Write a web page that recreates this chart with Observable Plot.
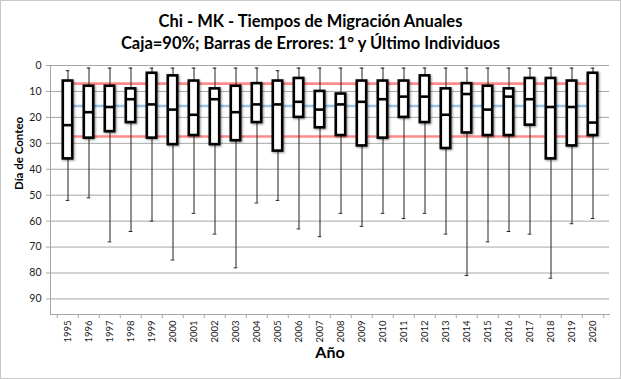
<!DOCTYPE html>
<html>
<head>
<meta charset="utf-8">
<script src="https://cdn.jsdelivr.net/npm/d3@7"></script>
<script src="https://cdn.jsdelivr.net/npm/@observablehq/plot@0.6"></script>
<style>
  html, body { margin: 0; padding: 0; background: #fff; }
  #chart { position: relative; width: 621px; height: 379px; font-family: Lato, "Open Sans", sans-serif; overflow: hidden; }
  #title { position: absolute; left: 0; top: 10px; width: 621px; text-align: center; font-weight: bold; font-size: 16.5px; line-height: 22px; color: #000; }
  #plot { position: absolute; left: 0; top: 0; }
  #border { position: absolute; left: 0; top: 0; width: 621px; height: 379px; box-sizing: border-box; border: 1px solid #c8c8c8; pointer-events: none; }
</style>
</head>
<body>
<div id="chart">
  <div id="plot"></div>
  <div id="title">Chi - MK - Tiempos de Migración Anuales<br>Caja=90%; Barras de Errores: 1° y Último Individuos</div>
  <div id="border"></div>
</div>
<script>
// ---- data ----
const years   = ["1995","1996","1997","1998","1999","2000","2001","2002","2003","2004","2005","2006","2007","2008","2009","2010","2011","2012","2013","2014","2015","2016","2017","2018","2019","2020"];
const boxLow  = [6, 8, 8, 9, 3, 4, 6, 9, 8, 7, 6, 5, 10, 11, 6, 6, 6, 4, 9, 7, 8, 9, 5, 5, 6, 3];
const boxHigh = [36, 28, 25.5, 22, 28, 30.5, 27, 30.5, 29, 22, 33, 20, 24, 27, 31, 28, 20, 22, 32, 26, 27, 27, 23, 36, 31, 27];
const medians = [23, 18, 16, 13, 15, 17, 19, 13, 18, 15, 15, 14, 17, 15, 14, 13, 12, 12, 19, 11, 17, 12, 13, 16, 16, 22];
const firsts  = [2, 1, 1, 1, 1, 1, 1, 1, 1, 1, 2, 1, 1, 1, 1, 1, 1, 1, 1, 1, 1, 1, 1, 1, 1, 1];
const lasts   = [52, 51, 68, 64, 60, 75, 57, 65, 78, 53, 52, 63, 66, 57, 62, 57, 59, 57, 65, 81, 68, 64, 65, 82, 61, 59];
const refLow  = 7;     // red line
const refMean = 15.6;  // blue line
const refHigh = 27.4;  // red line
const yTicks  = [0, 10, 20, 30, 40, 50, 60, 70, 80, 90];
const xTitle  = "Año";
const yTitle  = "Día de Conteo";

const data = years.map((y, i) => ({year: y, lo: boxLow[i], hi: boxHigh[i], med: medians[i], min: firsts[i], max: lasts[i]}));
const refLines = [refLow, refMean, refHigh].map((v, k) => ({
  key: k, color: k === 1 ? "#9dc3e6" : "#ff8b8b",
  pts: [{x: years[0], y: v}, {x: years[years.length - 1], y: v}]
}));

const W = 621, H = 379, mL = 50, mR = 12, mT = 65, mB = 65;
const bw = (W - mL - mR) / years.length;

const plot = Plot.plot({
  width: W, height: H,
  marginLeft: mL, marginRight: mR, marginTop: mT, marginBottom: mB,
  style: {fontFamily: "Lato, 'Open Sans', sans-serif", background: "transparent"},
  x: {type: "band", domain: years, padding: 0},
  y: {domain: [0, 96], reverse: true},
  marks: [
    Plot.gridY(yTicks, {stroke: "#a6a6a6", strokeOpacity: 1, strokeWidth: 1}),
    Plot.frame({anchor: "left", stroke: "#a6a6a6"}),
    Plot.frame({anchor: "bottom", stroke: "#a6a6a6"}),
    Plot.axisY(yTicks, {tickSize: 4, tickPadding: 5, stroke: "#a6a6a6", fill: "#1a1a1a", fontSize: 10.5, label: null}),
    Plot.axisX({tickSize: 0, tickPadding: 6, tickRotate: -90, fill: "#1a1a1a", fontSize: 9.5, label: null}),
    // category boundary ticks on the x axis
    Plot.ruleX(years, {x: d => d, y1: 96, y2: 97.6, dx: -bw / 2, stroke: "#a6a6a6"}),
    Plot.ruleX([years[years.length - 1]], {x: d => d, y1: 96, y2: 97.6, dx: bw / 2, stroke: "#a6a6a6"}),
    // reference lines
    ...refLines.map(r => Plot.line(r.pts, {x: "x", y: "y", stroke: r.color, strokeWidth: 2.6})),
    // whiskers (first and last individual)
    Plot.ruleX(data, {x: "year", y1: "min", y2: "max", stroke: "#222", strokeWidth: 1}),
    Plot.tickY(data, {x: "year", y: "min", stroke: "#222", strokeWidth: 1, inset: 8.7}),
    Plot.tickY(data, {x: "year", y: "max", stroke: "#222", strokeWidth: 1, inset: 8.7}),
    // boxes
    Plot.barY(data, {x: "year", y1: "lo", y2: "hi", fill: "#fff", stroke: "#000", strokeWidth: 2.6, insetLeft: 5.8, insetRight: 5.8,
      imageFilter: "drop-shadow(1px 1px 1px rgba(0,0,0,0.45))"}),
    Plot.tickY(data, {x: "year", y: "med", stroke: "#000", strokeWidth: 2.6, inset: 5.8}),
    // axis titles
    Plot.text([yTitle], {frameAnchor: "left", rotate: -90, dx: -31, fontWeight: "bold", fontSize: 11.5, fill: "#000"}),
    Plot.text([xTitle], {frameAnchor: "bottom", dy: 43, fontWeight: "bold", fontSize: 16, fill: "#000"})
  ]
});
document.getElementById("plot").appendChild(plot);
</script>
</body>
</html>
